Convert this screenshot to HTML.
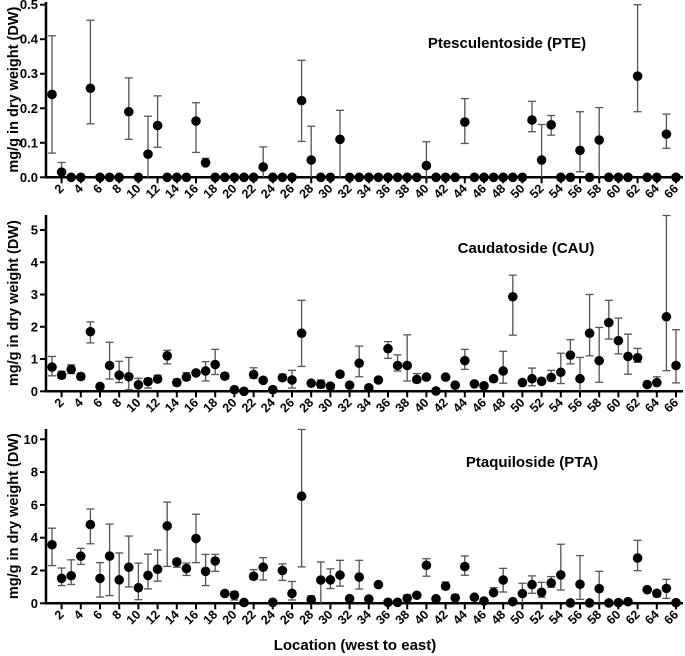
<!DOCTYPE html>
<html><head><meta charset="utf-8"><style>
body{margin:0;background:#fff;}
svg{display:block;font-family:"Liberation Sans",Arial,sans-serif;font-weight:bold;}
</style></head><body>
<svg id="chart" width="685" height="656" viewBox="0 0 685 656" xmlns="http://www.w3.org/2000/svg"></svg>
<script>
const locations = Array.from({length:66},(_,i)=>i+1);
const pteMean=[0.24,0.015,0,0,0.258,0,0,0,0.19,0,0.067,0.15,0,0,0,0.163,0.042,0,0,0,0,0,0.03,0,0,0,0.222,0.05,0,0,0.11,0,0,0,0,0,0,0,0,0.034,0,0,0,0.16,0,0,0,0,0,0,0.166,0.05,0.152,0,0,0.078,0,0.108,0,0,0,0.293,0,0,0.125,0];
const pteLo=[0.07,0,0,0,0.155,0,0,0,0.11,0,0,0.087,0,0,0,0.072,0.038,0,0,0,0,0,0,0,0,0,0.104,0,0,0,0,0,0,0,0,0,0,0,0,0,0,0,0,0.098,0,0,0,0,0,0,0.132,0,0.122,0,0,0.016,0,0,0,0,0,0.19,0,0,0.084,0];
const pteHi=[0.41,0.043,0,0,0.455,0,0,0,0.288,0,0.177,0.236,0,0,0,0.216,0.055,0,0,0,0,0,0.088,0,0,0,0.339,0.148,0,0,0.194,0,0,0,0,0,0,0,0,0.103,0,0,0,0.228,0,0,0,0,0,0,0.22,0.153,0.179,0,0,0.19,0,0.202,0,0,0,0.5,0,0,0.183,0];
const cauMean=[0.75,0.5,0.68,0.46,1.85,0.15,0.8,0.5,0.45,0.2,0.3,0.38,1.1,0.27,0.44,0.57,0.63,0.83,0.47,0.05,0,0.52,0.34,0.05,0.42,0.35,1.8,0.25,0.22,0.16,0.53,0.19,0.87,0.11,0.35,1.32,0.8,0.8,0.37,0.44,0.01,0.44,0.19,0.95,0.23,0.17,0.39,0.63,2.93,0.27,0.39,0.31,0.43,0.59,1.12,0.39,1.8,0.95,2.13,1.57,1.08,1.04,0.21,0.27,2.31,0.8];
const cauLo=[0.48,0.4,0.55,0.36,1.5,0.1,0.38,0.27,0.05,0,0.1,0.3,0.85,0.18,0.35,0.5,0.32,0.52,0.38,0,0,0.4,0.34,0.05,0.33,0.1,0.77,0.2,0.1,0.08,0.45,0.19,0.45,0.11,0.3,1.02,0.63,0.32,0.27,0.38,0.01,0.44,0.19,0.68,0.23,0.17,0.3,0.25,1.74,0.2,0.17,0.31,0.35,0.24,0.85,0,1.1,0.28,1.62,1.16,0.53,0.9,0.15,0.2,0.64,0.26];
const cauHi=[1.08,0.62,0.82,0.55,2.15,0.2,1.52,0.93,1.05,0.4,0.4,0.5,1.27,0.38,0.58,0.62,0.92,1.3,0.57,0.08,0,0.73,0.34,0.05,0.53,0.65,2.82,0.3,0.35,0.22,0.58,0.19,1.4,0.11,0.42,1.54,1.13,1.75,0.55,0.5,0.01,0.44,0.19,1.3,0.23,0.17,0.45,1.24,3.6,0.35,0.72,0.31,0.65,1.18,1.6,1.05,3.0,1.98,2.82,2.27,1.77,1.33,0.27,0.45,5.45,1.91];
const ptaMean=[3.57,1.52,1.68,2.87,4.8,1.52,2.88,1.43,2.2,0.95,1.7,2.08,4.72,2.52,2.12,3.95,1.95,2.58,0.6,0.5,0.05,1.65,2.2,0.06,2.0,0.6,6.53,0.22,1.42,1.43,1.72,0.28,1.6,0.26,1.14,0.06,0.06,0.3,0.49,2.32,0.28,1.04,0.33,2.24,0.37,0.14,0.65,1.42,0.1,0.59,1.14,0.67,1.24,1.73,0.02,1.16,0.02,0.89,0.02,0.04,0.1,2.76,0.83,0.61,0.91,0.04];
const ptaLo=[2.3,1.08,1.15,2.37,3.63,0.38,0.47,0,1.0,0.22,0.88,1.35,2.25,2.2,1.7,2.48,1.08,1.95,0.5,0.2,0.05,1.45,1.42,0.06,1.4,0.2,2.22,0.1,0,0.9,1.05,0.28,0.87,0.26,1.1,0.06,0.06,0.2,0.49,1.65,0.28,0.9,0.2,1.71,0.37,0.14,0.55,0.69,0.1,0,0.61,0.37,0.98,0.81,0.02,0.24,0.02,0,0.02,0.04,0.1,1.99,0.83,0.4,0.3,0.04];
const ptaHi=[4.58,2.15,2.65,3.35,5.75,2.48,4.83,3.07,4.1,2.45,3.0,3.25,6.17,2.68,2.45,5.43,2.98,2.98,0.68,0.72,0.05,2.05,2.78,0.06,2.4,1.33,10.6,0.45,2.52,2.1,2.62,0.28,2.62,0.26,1.2,0.06,0.06,0.52,0.49,2.72,0.28,1.3,0.52,2.89,0.37,0.14,0.95,2.13,0.1,1.22,1.67,1.28,1.63,3.6,0.02,2.91,0.02,1.95,0.02,0.04,0.1,3.84,0.83,0.75,1.46,0.04];
const pteTicks=[0,0.1,0.2,0.3,0.4,0.5], pteTickLabels=["0.0","0.1","0.2","0.3","0.4","0.5"];
const cauTicks=[0,1,2,3,4,5], cauTickLabels=["0","1","2","3","4","5"];
const ptaTicks=[0,2,4,6,8,10], ptaTickLabels=["0","2","4","6","8","10"];

const svg=document.getElementById('chart');
const NS='http://www.w3.org/2000/svg';
function mk(tag,attrs,parent){const e=document.createElementNS(NS,tag);for(const k in attrs)e.setAttribute(k,attrs[k]);(parent||svg).appendChild(e);return e;}
const xScale=l=>52+(l-1)*9.6;
const AX=46;
function panel(key,title,tx,ty,top,zeroY,maxV,maxY,ticks,tickLabels,mean,lo,hi){
  const g=mk('g',{});
  
  
  const y=v=>zeroY-(v/maxV)*(zeroY-maxY);
  const ax=mk('line',{x1:AX,y1:top,x2:AX,y2:zeroY+1,stroke:'#000','stroke-width':2.5},g);
  
  
  const xa=mk('line',{x1:AX-1,y1:zeroY,x2:683,y2:zeroY,stroke:'#000','stroke-width':2.5},g);
  
  
  ticks.forEach((t,i)=>{
    mk('line',{x1:AX-6,y1:y(t),x2:AX,y2:y(t),stroke:'#000','stroke-width':2},g);
    const tl=mk('text',{x:AX-8,y:y(t)+4.5,'text-anchor':'end','font-size':13},g);
    tl.textContent=tickLabels[i];
    
    
  });
  locations.forEach(l=>{
    if(l%2===0){
      const x=xScale(l);
      mk('line',{x1:x,y1:zeroY,x2:x,y2:zeroY+6,stroke:'#000','stroke-width':2},g);
      const lt=mk('text',{x:x+3,y:zeroY+12,'text-anchor':'end','font-size':12.5,transform:`rotate(-45 ${x+3} ${zeroY+12})`},g);
      lt.textContent=String(l);
      
      
    }
  });
  locations.forEach((l,i)=>{
    const x=xScale(l);
    if(hi[i]-lo[i]>0.0001){
      const eb=mk('g',{stroke:'#555','stroke-width':1.3},g);
      
      
      mk('line',{x1:x,y1:y(lo[i]),x2:x,y2:y(hi[i])},eb);
      mk('line',{x1:x-4,y1:y(hi[i]),x2:x+4,y2:y(hi[i])},eb);
      if(lo[i]>0) mk('line',{x1:x-4,y1:y(lo[i]),x2:x+4,y2:y(lo[i])},eb);
    }
    const c=mk('circle',{cx:x,cy:y(mean[i]),r:4.8,fill:'#000'},g);
    
    
  });
  const t=mk('text',{x:tx,y:ty,'text-anchor':'middle','font-size':15},g);
  t.textContent=title;
  
  
  const cy=(top+zeroY)/2;
  const yt=mk('text',{x:18,y:cy,'text-anchor':'middle','font-size':14.5,transform:`rotate(-90 18 ${cy})`},g);
  yt.textContent='mg/g in dry weight (DW)';
  
  
}
panel('pte','Ptesculentoside (PTE)',507,48,2,177.3,0.5,4.7,pteTicks,pteTickLabels,pteMean,pteLo,pteHi);
panel('cau','Caudatoside (CAU)',526,253,215,391.3,5,230,cauTicks,cauTickLabels,cauMean,cauLo,cauHi);
panel('pta','Ptaquiloside (PTA)',532,467,429,603.3,10,439.3,ptaTicks,ptaTickLabels,ptaMean,ptaLo,ptaHi);
const xt=mk('text',{x:355,y:650,'text-anchor':'middle','font-size':15});
xt.textContent='Location (west to east)';


</script>
</body></html>
